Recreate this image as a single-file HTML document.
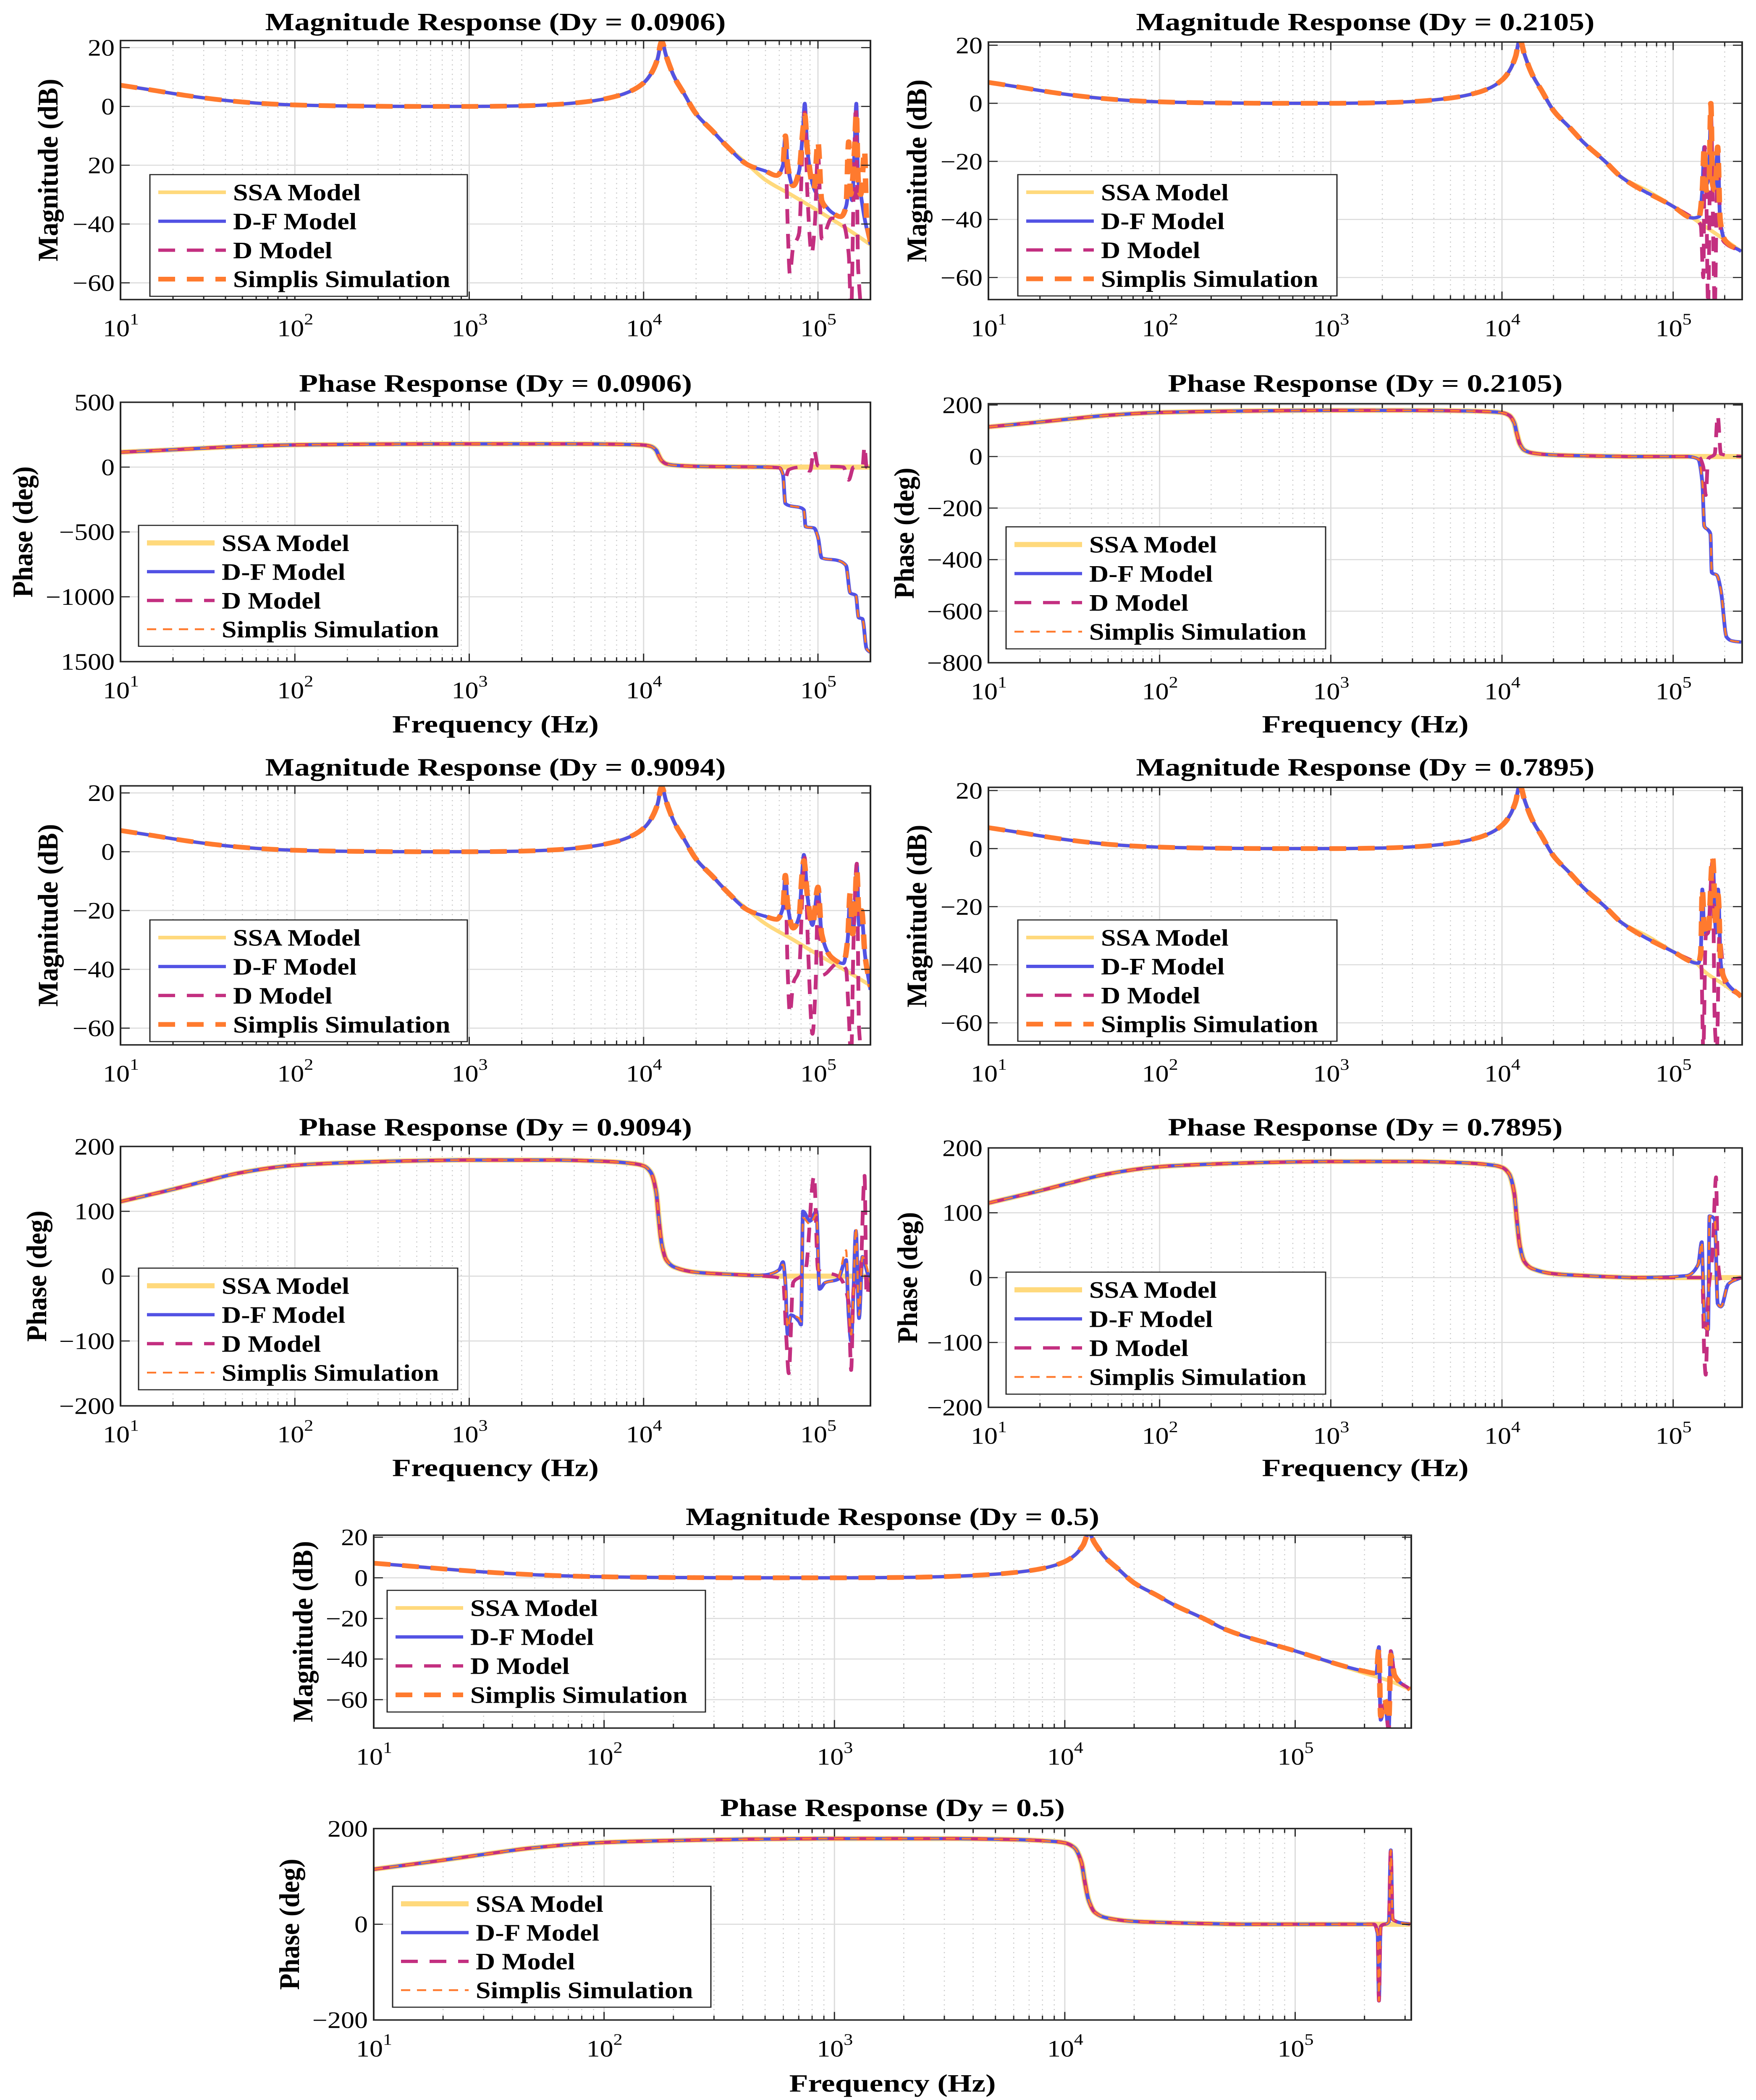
<!DOCTYPE html>
<html><head><meta charset="utf-8"><title>Bode plots</title>
<style>html,body{margin:0;padding:0;background:#fff;width:100vw;height:100vh;overflow:hidden;}svg{display:block;position:absolute;left:0;top:0;width:100vw;height:100vh;}
text{font-family:"Liberation Serif","Times New Roman",serif;fill:#000;}</style></head>
<body>
<svg id="fig" xmlns="http://www.w3.org/2000/svg" viewBox="0 0 4182 5748" preserveAspectRatio="none">
<rect x="0" y="0" width="4182" height="5748" fill="#fff"/>
</svg>
<script>
// ---------- shared low-frequency data ----------
const baseMagF = [10,15,20,30,50,70,100,200,500,1000,2000,3000,5000,7000,8500,10000,11000,12000,12700,13500,15000,17000,20000,25000,30000,40000];
const baseMag  = [7.2,5.6,4.4,2.9,1.5,0.9,0.5,0.15,0,0,0.2,0.6,1.8,3.5,5.3,8,11,16,22,17,10,4.5,-2.5,-8.5,-13.5,-20];
const basePhF  = [10,15,20,30,50,100,200,500,1000,3000,6000,9000,10000,11000,11800,12200,12700,13500,15000,20000,30000,45000];
const basePh   = [115,126,134,146,160,171,175,178,179,179,177,173,170,160,130,90,50,25,14,6,3,1];

// ---------- Dy = 0.0906 magnitude ----------
const m1SsaF = [50000,70000,100000,150000,200000];
const m1Ssa  = [-25,-30,-35.5,-42,-47];
const m1DfF  = [50000,58000,63000,65000,67000,72000,78000,82000,84000,87000,95000,105000,120000,135000,145000,152000,157000,162000,166000,170000,176000,185000,200000];
const m1Df   = [-22,-23.5,-20,-10,-20,-27,-22,-8,1,-15,-28,-32,-36,-37.5,-34,-27,-32,-15,1,-25,-30,-38,-47];
const m1DF   = [50000,58000,63000,65000,67000,69000,72000,78000,82000,84000,87000,92000,96000,100000,105000,120000,140000,150000,155000,160000,165000,170000,180000,200000];
const m1D    = [-22,-23.5,-20,-10,-40,-57,-48,-43,-10,-2,-30,-50,-40,-15,-45,-38,-40,-50,-70,-30,0,-55,-70,-70];
const m1SimF = [50000,58000,63000,65000,67000,72000,78000,82000,84000,87000,95000,100000,105000,120000,135000,145000,150000,154000,158000,162000,166000,170000,176000,185000,190000,200000];
const m1Sim  = [-22,-23.5,-20,-10,-20,-27,-22,-8,-3,-15,-28,-12,-32,-36,-37.5,-34,-12,-30,-25,-15,-2,-25,-30,-15,-38,-46];

// ---------- Dy = 0.0906 phase ----------
const p1SsaF = [60000,200000];
const p1Ssa  = [0,0];
const p1DfF  = [60000,63000,65000,70000,78000,83000,85000,95000,100000,105000,130000,145000,153000,165000,171000,180000,190000,200000];
const p1Df   = [-5,-60,-280,-300,-310,-330,-460,-470,-540,-700,-720,-760,-970,-990,-1160,-1170,-1400,-1430];
const p1DF   = [60000,65000,68000,80000,90000,95000,100000,140000,150000,160000,180000,185000,190000,200000];
const p1D    = [-5,-80,-20,0,-30,130,10,0,-100,0,0,160,0,0];

// ---------- Dy = 0.2105 magnitude ----------
const m2SsaF = [50000,70000,100000,130000,150000,200000,250000];
const m2Ssa  = [-25.5,-30,-35.5,-39.5,-42,-47,-51];
const m2DfF  = [50000,100000,130000,142000,148000,152000,156000,162000,166000,170000,176000,182000,188000,200000,250000];
const m2Df   = [-25.5,-35.5,-39.5,-39,-30,-15,-28,-25,-3,-25,-29,-15,-40,-47,-51];
const m2DF   = [50000,100000,130000,145000,150000,153000,156000,160000,166000,175000,182000,190000,200000,250000];
const m2D    = [-25.5,-35.5,-39.5,-42,-60,-15,-30,-70,-2,-70,-15,-45,-48,-51];
const m2SimF = [50000,100000,130000,142000,148000,152000,156000,162000,166000,170000,176000,182000,188000,200000,250000];
const m2Sim  = [-25.5,-35.5,-39.5,-39,-30,-15,-30,-28,0,-28,-30,-15,-40,-47,-51];

// ---------- Dy = 0.2105 phase ----------
const p2SsaF = [60000,250000];
const p2Ssa  = [0,0];
const p2DfF  = [60000,120000,140000,148000,152000,160000,165000,168000,180000,190000,205000,220000,250000];
const p2Df   = [0,0,-10,-100,-270,-285,-300,-450,-460,-520,-700,-715,-720];
const p2DF   = [60000,140000,150000,155000,160000,175000,182000,190000,250000];
const p2D    = [0,0,-40,-150,-10,10,160,10,0];

// ---------- Dy = 0.9094 magnitude ----------
const m3SsaF = [50000,70000,100000,150000,200000];
const m3Ssa  = [-24.5,-29.5,-35,-41,-45.5];
const m3DfF  = [50000,58000,63000,65000,67000,72000,78000,81000,83000,87000,93000,100000,105000,120000,140000,148000,153000,158000,163000,167000,172000,178000,186000,200000];
const m3Df   = [-22,-23,-19,-8,-18,-26,-22,-8,-1,-15,-25,-13,-28,-36,-38,-30,-15,-28,-20,-4,-25,-22,-35,-47];
const m3DF   = [50000,58000,63000,65000,67000,69000,72000,78000,82000,84000,88000,93000,97000,100000,106000,130000,145000,150000,155000,160000,167000,172000,180000,200000];
const m3D    = [-22,-23,-19,-8,-40,-55,-45,-40,-10,-2,-35,-62,-45,-15,-42,-38,-40,-55,-70,-30,-4,-60,-70,-70];
const m3SimF = [50000,58000,63000,65000,67000,72000,78000,81000,83000,87000,93000,100000,105000,120000,140000,148000,153000,158000,163000,167000,172000,178000,186000,200000];
const m3Sim  = [-22,-23,-19,-8,-18,-26,-22,-8,-3,-15,-25,-12,-28,-36,-38,-30,-14,-28,-18,-6,-22,-20,-35,-46];

// ---------- Dy = 0.9094 phase ----------
const p3SsaF = [60000,200000];
const p3Ssa  = [0,0];
const p3DfF  = [50000,60000,63000,65000,67000,70000,78000,80000,82000,90000,98000,102000,110000,130000,145000,150000,155000,160000,165000,172000,180000,190000,200000];
const p3Df   = [2,10,22,-10,-90,-60,-70,-75,100,85,100,-20,-10,-5,25,-60,-100,-20,70,-65,30,10,-15];
const p3DF   = [50000,63000,66000,68000,72000,80000,85000,95000,100000,130000,150000,155000,160000,175000,185000,190000,200000];
const p3D    = [0,-5,-100,-150,-10,0,10,155,10,0,-40,-145,-20,0,155,-30,0];
const p3SimF = [50000,60000,63000,65000,67000,70000,78000,80000,82000,90000,98000,102000,110000,130000,145000,150000,155000,160000,165000,172000,180000,190000,200000];
const p3Sim  = [2,10,18,-10,-80,-60,-65,-70,90,80,95,-15,-10,-5,40,-50,-90,-20,75,-60,30,15,-10];

// ---------- Dy = 0.7895 magnitude ----------
const m4SsaF = [50000,70000,100000,140000,150000,200000,250000];
const m4Ssa  = [-25.5,-30,-35.5,-40,-42,-47,-51];
const m4DfF  = [50000,100000,140000,145000,148000,152000,160000,170000,178000,183000,190000,200000,250000];
const m4Df   = [-25.5,-35.5,-39.5,-36,-14,-29,-29,-4,-29,-14,-40,-45,-51];
const m4DF   = [50000,100000,140000,146000,150000,155000,160000,170000,175000,180000,186000,200000,250000];
const m4D    = [-25.5,-35.5,-39.5,-40,-70,-30,-29,-4,-60,-70,-30,-46,-51];
const m4SimF = [50000,100000,140000,145000,148000,152000,160000,170000,178000,183000,190000,200000,250000];
const m4Sim  = [-25.5,-35.5,-39.5,-36,-14,-27,-30,-3,-27,-16,-40,-45,-51];

// ---------- Dy = 0.7895 phase ----------
const p4SsaF = [60000,250000];
const p4Ssa  = [0,0];
const p4DfF  = [60000,120000,140000,147000,150000,153000,160000,163000,175000,182000,190000,210000,250000];
const p4Df   = [0,3,20,55,-20,-75,-80,95,90,-40,-45,-10,0];
const p4DF   = [60000,140000,148000,152000,155000,160000,170000,178000,182000,190000,250000];
const p4D    = [0,0,0,-120,-150,-30,40,155,30,-5,0];

// ---------- Dy = 0.5 magnitude ----------
const m5SsaF = [50000,100000,200000,230000,260000,316000];
const m5Ssa  = [-25.5,-36,-47,-49,-51,-55];
const m5DfF  = [50000,100000,200000,225000,231000,235000,245000,255000,260000,270000,316000];
const m5Df   = [-25.5,-36,-46,-47,-34,-70,-62,-75,-36,-48,-55];
const m5DF   = [50000,100000,200000,225000,231000,235000,245000,255000,260000,270000,316000];
const m5D    = [-25.5,-36,-46,-47,-34,-70,-62,-75,-36,-48,-55];
const m5SimF = [50000,100000,200000,225000,231000,235000,245000,255000,260000,270000,316000];
const m5Sim  = [-25.5,-36,-46,-47,-35,-68,-60,-70,-38,-48,-55];

// ---------- Dy = 0.5 phase ----------
const p5SsaF = [60000,316000];
const p5Ssa  = [0,0];
const p5DfF  = [60000,220000,228000,231000,235000,255000,260000,265000,316000];
const p5Df   = [0,0,-20,-160,-5,5,155,10,0];

// ---------- tick labels ----------
const magTicks = [20,0,-20,-40,-60];
const magTickLabelsA = ["20","0","20","\u221240","\u221260"];
const magTickLabelsB = ["20","0","\u221220","\u221240","\u221260"];
const ph1Ticks = [500,0,-500,-1000,-1500];
const ph1TickLabels = ["500","0","\u2212500","\u22121000","1500"];
const ph2Ticks = [200,0,-200,-400,-600,-800];
const ph2TickLabels = ["200","0","\u2212200","\u2212400","\u2212600","\u2212800"];
const ph3Ticks = [200,100,0,-100,-200];
const ph3TickLabels = ["200","100","0","\u2212100","\u2212200"];
const ph5Ticks = [200,0,-200];
const ph5TickLabels = ["200","0","\u2212200"];
const legendLabels = ["SSA Model","D-F Model","D Model","Simplis Simulation"];

const NS = "http://www.w3.org/2000/svg";
const svg = document.getElementById('fig');
function mk(parent, tag, attrs){
  const e = document.createElementNS(NS, tag);
  for (const k in attrs) e.setAttribute(k, attrs[k]);
  parent.appendChild(e);
  return e;
}
function join(bf, bv, tf, tv){
  const f = [], v = [];
  for (let i=0;i<bf.length;i++){ if (bf[i] < tf[0]) { f.push(bf[i]); v.push(bv[i]); } }
  return [f.concat(tf), v.concat(tv)];
}
// monotone cubic (Fritsch-Carlson) in log-frequency
function smooth(xs, ys, steps){
  const n = xs.length, d = [], m = new Array(n).fill(0);
  for (let i=0;i<n-1;i++) d.push((ys[i+1]-ys[i])/(xs[i+1]-xs[i]));
  m[0] = d[0]; m[n-1] = d[n-2];
  for (let i=1;i<n-1;i++){
    if (d[i-1]*d[i] <= 0) m[i] = 0;
    else { const w1 = 2*(xs[i+1]-xs[i]) + (xs[i]-xs[i-1]), w2 = (xs[i+1]-xs[i]) + 2*(xs[i]-xs[i-1]);
      m[i] = (w1+w2)/(w1/d[i-1] + w2/d[i]); }
  }
  const out = [];
  for (let i=0;i<n-1;i++){
    const h = xs[i+1]-xs[i];
    for (let s=0;s<steps;s++){
      const t = s/steps, t2=t*t, t3=t2*t;
      const y = (2*t3-3*t2+1)*ys[i] + (t3-2*t2+t)*h*m[i] + (-2*t3+3*t2)*ys[i+1] + (t3-t2)*h*m[i+1];
      out.push([xs[i]+t*h, y]);
    }
  }
  out.push([xs[n-1], ys[n-1]]);
  return out;
}

const COLORS = {ssa:"#FFD97C", df:"#5252E4", d:"#C32F80", sim:"#FF7A2E"};

const panels = [
 {id:"mag-0906", kind:"mag", x0:287,x1:2073,lmax:5.301, y0:111,y1:820, ymin:-65.7,ymax:22.4, ticks:magTicks, tl:magTickLabelsA,
  title:"Magnitude Response (Dy = 0.0906)", tw:1097, ty:83, yl:"Magnitude (dB)", ylx:114, ylw:500,
  leg:[357,478,1113,811], ser:[[m1SsaF,m1Ssa],[m1DfF,m1Df],[m1DF,m1D],[m1SimF,m1Sim]], xlab:null},
 {id:"mag-2105", kind:"mag", x0:2354,x1:4149,lmax:5.403, y0:115,y1:820, ymin:-67.6,ymax:21.1, ticks:magTicks, tl:magTickLabelsB,
  title:"Magnitude Response (Dy = 0.2105)", tw:1092, ty:83, yl:"Magnitude (dB)", ylx:2183, ylw:500,
  leg:[2424,478,3184,810], ser:[[m2SsaF,m2Ssa],[m2DfF,m2Df],[m2DF,m2D],[m2SimF,m2Sim]], xlab:null},
 {id:"phase-0906", kind:"ph", x0:287,x1:2073,lmax:5.301, y0:1101,y1:1811, ymin:-1500,ymax:500, ticks:ph1Ticks, tl:ph1TickLabels,
  title:"Phase Response (Dy = 0.0906)", tw:936, ty:1072, yl:"Phase (deg)", ylx:54, ylw:359,
  leg:[330,1438,1090,1769], ser:[[p1SsaF,p1Ssa],[p1DfF,p1Df],[p1DF,p1D],[p1DfF,p1Df]], xlab:2005},
 {id:"phase-2105", kind:"ph", x0:2354,x1:4149,lmax:5.403, y0:1105,y1:1814, ymin:-800,ymax:205, ticks:ph2Ticks, tl:ph2TickLabels,
  title:"Phase Response (Dy = 0.2105)", tw:940, ty:1072, yl:"Phase (deg)", ylx:2153, ylw:359,
  leg:[2396,1442,3157,1776], ser:[[p2SsaF,p2Ssa],[p2DfF,p2Df],[p2DF,p2D],[p2DfF,p2Df]], xlab:2005},
 {id:"mag-9094", kind:"mag", x0:287,x1:2073,lmax:5.301, y0:2151,y1:2860, ymin:-65.7,ymax:22.4, ticks:magTicks, tl:magTickLabelsB,
  title:"Magnitude Response (Dy = 0.9094)", tw:1097, ty:2123, yl:"Magnitude (dB)", ylx:114, ylw:500,
  leg:[357,2518,1113,2851], ser:[[m3SsaF,m3Ssa],[m3DfF,m3Df],[m3DF,m3D],[m3SimF,m3Sim]], xlab:null},
 {id:"mag-7895", kind:"mag", x0:2354,x1:4149,lmax:5.403, y0:2155,y1:2860, ymin:-67.6,ymax:21.1, ticks:magTicks, tl:magTickLabelsB,
  title:"Magnitude Response (Dy = 0.7895)", tw:1092, ty:2123, yl:"Magnitude (dB)", ylx:2183, ylw:500,
  leg:[2424,2518,3184,2850], ser:[[m4SsaF,m4Ssa],[m4DfF,m4Df],[m4DF,m4D],[m4SimF,m4Sim]], xlab:null},
 {id:"phase-9094", kind:"ph", x0:287,x1:2073,lmax:5.301, y0:3138,y1:3848, ymin:-200,ymax:200, ticks:ph3Ticks, tl:ph3TickLabels,
  title:"Phase Response (Dy = 0.9094)", tw:936, ty:3108, yl:"Phase (deg)", ylx:87, ylw:359,
  leg:[330,3471,1090,3804], ser:[[p3SsaF,p3Ssa],[p3DfF,p3Df],[p3DF,p3D],[p3SimF,p3Sim]], xlab:4040},
 {id:"phase-7895", kind:"ph", x0:2354,x1:4149,lmax:5.403, y0:3142,y1:3852, ymin:-200,ymax:200, ticks:ph3Ticks, tl:ph3TickLabels,
  title:"Phase Response (Dy = 0.7895)", tw:940, ty:3108, yl:"Phase (deg)", ylx:2161, ylw:359,
  leg:[2396,3482,3157,3816], ser:[[p4SsaF,p4Ssa],[p4DfF,p4Df],[p4DF,p4D],[p4DfF,p4Df]], xlab:4040},
 {id:"mag-05", kind:"mag", x0:890,x1:3361,lmax:5.504, y0:4202,y1:4730, ymin:-74,ymax:21, ticks:magTicks, tl:magTickLabelsB,
  title:"Magnitude Response (Dy = 0.5)", tw:985, ty:4174, yl:"Magnitude (dB)", ylx:721, ylw:496,
  leg:[922,4353,1680,4686], ser:[[m5SsaF,m5Ssa],[m5DfF,m5Df],[m5DF,m5D],[m5SimF,m5Sim]], xlab:null},
 {id:"phase-05", kind:"ph", x0:890,x1:3361,lmax:5.504, y0:5005,y1:5529, ymin:-200,ymax:200, ticks:ph5Ticks, tl:ph5TickLabels,
  title:"Phase Response (Dy = 0.5)", tw:821, ty:4971, yl:"Phase (deg)", ylx:689, ylw:359,
  leg:[935,5163,1693,5494], ser:[[p5SsaF,p5Ssa],[p5DfF,p5Df],[p5DfF,p5Df],[p5DfF,p5Df]], xlab:5725}
];

const defs = mk(svg, 'defs', {});
panels.forEach((p, pi) => {
  const g = mk(svg, 'g', {});
  
  
  const XL = lf => p.x0 + (lf - 1) / (p.lmax - 1) * (p.x1 - p.x0);
  const X = f => XL(Math.log10(f));
  const Y = v => p.y1 - (v - p.ymin) / (p.ymax - p.ymin) * (p.y1 - p.y0);
  const cp = mk(defs, 'clipPath', {id: 'clip' + pi});
  mk(cp, 'rect', {x:p.x0, y:p.y0, width:p.x1-p.x0, height:p.y1-p.y0});

  // grid
  const grid = mk(g, 'g', {});
  
  
  for (let d=1; d<=6; d++){
    for (let m=1; m<=9; m++){
      const f = m*Math.pow(10,d);
      if (Math.log10(f) > p.lmax + 1e-9) continue;
      const x = X(f);
      if (m === 1) {
        const gl = mk(grid, 'line', {x1:x,y1:p.y0,x2:x,y2:p.y1,stroke:'#dcdcdc','stroke-width':3});
        
        
      } else {
        const gl = mk(grid, 'line', {x1:x,y1:p.y0,x2:x,y2:p.y1,stroke:'#c8c8c8','stroke-width':2.5,'stroke-dasharray':'3 10'});
        
        
      }
    }
  }
  p.ticks.forEach(t => {
    const y = Y(t);
    const gl = mk(grid, 'line', {x1:p.x0,y1:y,x2:p.x1,y2:y,stroke:'#dcdcdc','stroke-width':3});
    
    
  });

  // series
  const styles = p.kind === 'mag'
    ? [{c:COLORS.ssa,w:10,da:null},{c:COLORS.df,w:9,da:null},{c:COLORS.d,w:9,da:'40 28'},{c:COLORS.sim,w:13,da:'40 28'}]
    : [{c:COLORS.ssa,w:14,da:null},{c:COLORS.df,w:9,da:null},{c:COLORS.d,w:9,da:'40 28'},{c:COLORS.sim,w:5,da:'22 16'}];
  const names = ['ssa-model-line','df-model-line','d-model-line','simplis-simulation-line'];
  const cg = mk(g, 'g', {'clip-path':'url(#clip'+pi+')'});
  
  
  p.ser.forEach((s, si) => {
    const bf = p.kind === 'mag' ? baseMagF : basePhF;
    const bv = p.kind === 'mag' ? baseMag : basePh;
    const jd = join(bf, bv, s[0], s[1]);
    const pts = smooth(jd[0].map(f => Math.log10(f)), jd[1], 8);
    let dstr = '';
    pts.forEach((q, i) => { dstr += (i? 'L':'M') + XL(q[0]).toFixed(1) + ' ' + Y(q[1]).toFixed(1); });
    const st = styles[si];
    const a = {d:dstr, fill:'none', stroke:st.c, 'stroke-width':st.w, 'stroke-linejoin':'round', 'stroke-linecap':'butt'};
    if (st.da) a['stroke-dasharray'] = st.da;
    const path = mk(cg, 'path', a);
    
    
  });

  // axes box + ticks
  const ax = mk(g, 'g', {});
  
  
  for (let d=1; d<=6; d++){
    for (let m=1; m<=9; m++){
      const f = m*Math.pow(10,d);
      if (Math.log10(f) > p.lmax + 1e-9) continue;
      const x = X(f), L = m===1 ? 22 : 12;
      const t1 = mk(ax, 'line', {x1:x,y1:p.y1,x2:x,y2:p.y1-L,stroke:'#262626','stroke-width':3});
      
      
      const t2 = mk(ax, 'line', {x1:x,y1:p.y0,x2:x,y2:p.y0+L,stroke:'#262626','stroke-width':3});
      
      
    }
    if (d <= Math.floor(p.lmax)) {
      const x = X(Math.pow(10,d));
      const tx = mk(ax, 'text', {x:x-42, y:p.y1+100, 'font-size':64});
      
      
      tx.textContent = '10';
      const sup = mk(tx, 'tspan', {dy:-32, 'font-size':44});
      sup.textContent = String(d);
    }
  }
  p.ticks.forEach((t, i) => {
    const y = Y(t);
    const a1 = mk(ax, 'line', {x1:p.x0,y1:y,x2:p.x0+22,y2:y,stroke:'#262626','stroke-width':3});
    
    
    const a2 = mk(ax, 'line', {x1:p.x1,y1:y,x2:p.x1-22,y2:y,stroke:'#262626','stroke-width':3});
    
    
    const lt = mk(ax, 'text', {x:p.x0-14, y:y+22, 'font-size':64, 'text-anchor':'end'});
    
    
    lt.textContent = p.tl[i];
  });
  const box = mk(ax, 'rect', {x:p.x0,y:p.y0,width:p.x1-p.x0,height:p.y1-p.y0,fill:'none',stroke:'#262626','stroke-width':4});
  
  

  // title
  const tt = mk(g, 'text', {x:(p.x0+p.x1)/2, y:p.ty, 'font-size':68, 'font-weight':'bold', 'text-anchor':'middle', textLength:p.tw, lengthAdjust:'spacingAndGlyphs'});
  
  
  tt.textContent = p.title;

  // y label
  const cy = (p.y0+p.y1)/2;
  const yl = mk(g, 'text', {x:p.ylx, y:cy, 'font-size':68, 'font-weight':'bold', 'text-anchor':'middle', 'dominant-baseline':'central', transform:'rotate(-90 '+p.ylx+' '+cy+')', textLength:p.ylw, lengthAdjust:'spacingAndGlyphs'});
  
  
  yl.textContent = p.yl;

  // x label
  if (p.xlab) {
    const xl = mk(g, 'text', {x:(p.x0+p.x1)/2, y:p.xlab, 'font-size':68, 'font-weight':'bold', 'text-anchor':'middle', textLength:492, lengthAdjust:'spacingAndGlyphs'});
    
    
    xl.textContent = 'Frequency (Hz)';
  }

  // legend
  const [lx0, ly0, lx1, ly1] = p.leg;
  const lg = mk(g, 'g', {});
  
  
  const lb = mk(lg, 'rect', {x:lx0,y:ly0,width:lx1-lx0,height:ly1-ly0,fill:'#fff',stroke:'#262626','stroke-width':3});
  
  
  const h = ly1 - ly0;
  legendLabels.forEach((lab, i) => {
    const y = ly0 + 0.145*h + i*0.238*h;
    const st = styles[i];
    const la = {x1:lx0+20, y1:y, x2:lx0+181, y2:y, stroke:st.c, 'stroke-width':st.w};
    if (st.da) la['stroke-dasharray'] = st.da;
    const ln = mk(lg, 'line', la);
    
    
    const lt = mk(lg, 'text', {x:lx0+198, y:y+22, 'font-size':64, 'font-weight':'bold'});
    
    
    lt.textContent = lab;
  });
});
</script>
</body></html>
